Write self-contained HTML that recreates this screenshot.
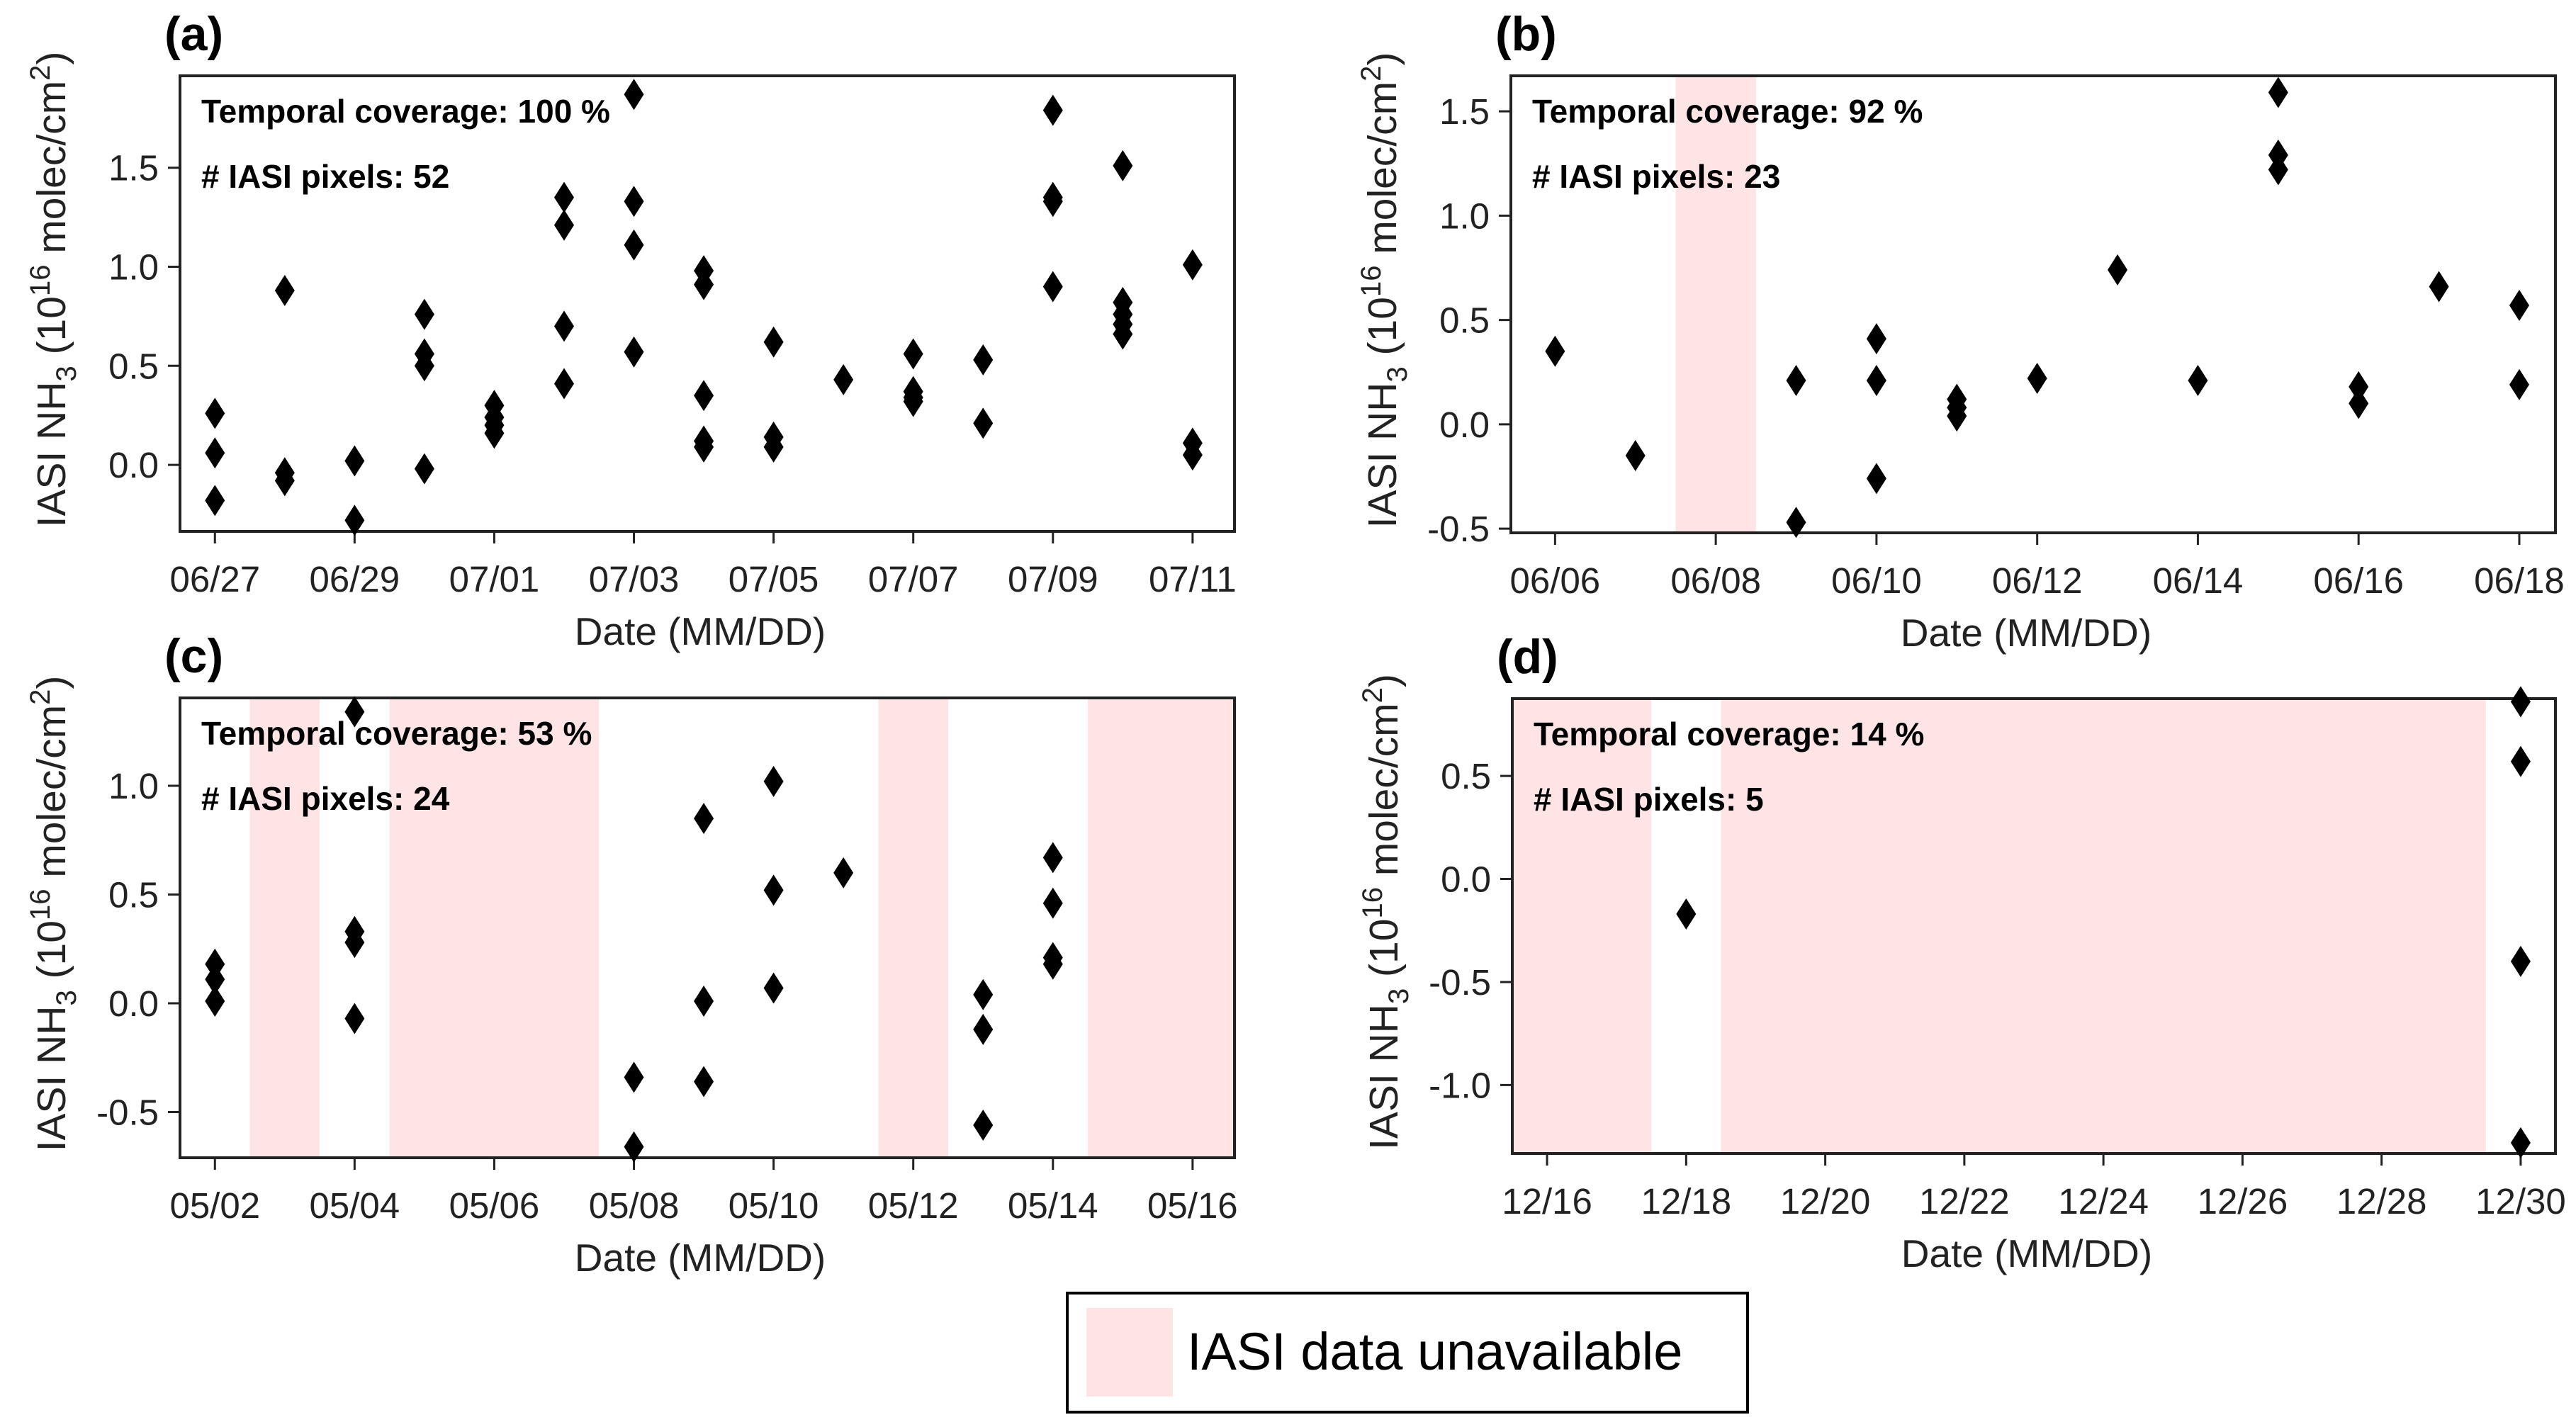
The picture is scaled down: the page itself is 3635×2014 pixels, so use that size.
<!DOCTYPE html>
<html><head><meta charset="utf-8"><style>
html,body{margin:0;padding:0;background:#fff;}
svg{display:block;font-family:"Liberation Sans",Arial,sans-serif;}
</style></head><body>
<svg id="fig" width="3635" height="2014" viewBox="0 0 3635 2014" xmlns="http://www.w3.org/2000/svg">
<rect x="0" y="0" width="3635" height="2014" fill="#fff"/>
<g>
<rect x="1506" y="1825" width="960" height="168" fill="#fff" stroke="#000" stroke-width="4"/>
<rect x="1533" y="1846" width="122" height="125" fill="#ffe4e6"/>
<text x="1675" y="1933" font-size="74" fill="#000">IASI data unavailable</text>
</g>
</svg>
<script>
// ---- panel (a) data: day offsets from 06/27 ----
const aLabels = ["06/27","06/29","07/01","07/03","07/05","07/07","07/09","07/11"];
const aDays = [0,0,0,1,1,1,2,2,3,3,3,3,4,4,4,4,5,5,5,5,6,6,6,6,7,7,7,7,7,8,8,8,9,10,10,10,10,11,11,12,12,12,12,13,13,13,13,13,14,14,14];
const aValues = [0.26,0.06,-0.18,0.88,-0.04,-0.08,0.02,-0.28,0.76,0.56,0.50,-0.02,0.30,0.24,0.20,0.16,1.35,1.21,0.70,0.41,1.87,1.33,1.11,0.57,0.98,0.91,0.35,0.12,0.09,0.62,0.14,0.09,0.43,0.56,0.37,0.34,0.32,0.53,0.21,1.79,1.35,1.33,0.90,1.51,0.82,0.76,0.71,0.66,1.01,0.11,0.05];
const aYTicks = [0.0,0.5,1.0,1.5];
const aGaps = [];
// ---- panel (b) data: day offsets from 06/06 ----
const bLabels = ["06/06","06/08","06/10","06/12","06/14","06/16","06/18"];
const bDays = [0,1,3,3,4,4,4,5,5,5,6,7,8,9,9,9,10,10,11,12,12];
const bValues = [0.35,-0.15,0.21,-0.47,0.41,0.21,-0.26,0.12,0.08,0.04,0.22,0.74,0.21,1.59,1.29,1.22,0.18,0.10,0.66,0.57,0.19];
const bYTicks = [-0.5,0.0,0.5,1.0,1.5];
const bGaps = [[1.5,2.5]];
// ---- panel (c) data: day offsets from 05/02 ----
const cLabels = ["05/02","05/04","05/06","05/08","05/10","05/12","05/14","05/16"];
const cDays = [0,0,0,2,2,2,2,6,6,7,7,7,8,8,8,9,11,11,11,12,12,12,12];
const cValues = [0.18,0.11,0.01,1.34,0.33,0.28,-0.07,-0.34,-0.66,0.85,0.01,-0.36,1.02,0.52,0.07,0.60,0.04,-0.12,-0.56,0.67,0.46,0.21,0.18];
const cYTicks = [-0.5,0.0,0.5,1.0];
const cGaps = [[0.5,1.5],[2.5,5.5],[9.5,10.5],[12.5,14.6]];
// ---- panel (d) data: day offsets from 12/16 ----
const dLabels = ["12/16","12/18","12/20","12/22","12/24","12/26","12/28","12/30"];
const dDays = [2,14,14,14,14];
const dValues = [-0.17,0.86,0.57,-0.40,-1.28];
const dYTicks = [-1.0,-0.5,0.0,0.5];
const dGaps = [[-0.6,1.5],[2.5,13.5]];

const NS="http://www.w3.org/2000/svg";
const fig=document.getElementById('fig');
function mk(tag,attrs,parent){const e=document.createElementNS(NS,tag);for(const k in attrs)e.setAttribute(k,attrs[k]);(parent||fig).appendChild(e);return e;}

function panel(o){
  const g=mk('g',{});
  
  
  const sx=d=>o.x0+(d-o.d0)*(o.x1-o.x0)/(o.d1-o.d0);
  const sy=v=>o.y1-(v-o.v0)*(o.y1-o.y0)/(o.v1-o.v0);
  o.gaps.forEach((gp,i)=>{
    const a=Math.max(sx(gp[0]),o.x0), b=Math.min(sx(gp[1]),o.x1);
    const r=mk('rect',{x:a,y:o.y0,width:b-a,height:o.y1-o.y0,fill:'#ffe4e6'},g);
    
    
  });
  o.labels.forEach((lab,i)=>{
    const x=sx(i*2);
    const t=mk('line',{x1:x,x2:x,y1:o.y1,y2:o.y1+17,stroke:'#222','stroke-width':3},g);
    
    
    const tx=mk('text',{x:x,y:o.y1+85,'font-size':51,'text-anchor':'middle',fill:'#222'},g);
    tx.textContent=lab;
    
    
  });
  o.yticks.forEach(v=>{
    const y=sy(v);
    const t=mk('line',{x1:o.x0-17,x2:o.x0,y1:y,y2:y,stroke:'#222','stroke-width':3},g);
    
    
    const tx=mk('text',{x:o.x0-30,y:y+18,'font-size':51,'text-anchor':'end',fill:'#222'},g);
    tx.textContent=v.toFixed(1);
    
    
  });
  const bx=mk('rect',{x:o.x0,y:o.y0,width:o.x1-o.x0,height:o.y1-o.y0,fill:'none',stroke:'#222','stroke-width':4},g);
  
  
  const t1=mk('text',{x:o.x0+30,y:o.y0+66,'font-size':46,'font-weight':'bold',fill:'#000'},g);
  t1.textContent='Temporal coverage: '+o.cov+' %';
  
  
  const t2=mk('text',{x:o.x0+30,y:o.y0+158,'font-size':46,'font-weight':'bold',fill:'#000'},g);
  t2.textContent='# IASI pixels: '+o.pix;
  
  
  o.days.forEach((d,i)=>{
    const x=sx(d), y=sy(o.vals[i]);
    const p=mk('path',{d:`M${x} ${y-22}L${x+14} ${y}L${x} ${y+22}L${x-14} ${y}Z`,fill:'#000'},g);
    
    
  });
  const L=mk('text',{x:o.x0-22,y:o.y0-36,'font-size':68,'font-weight':'bold',fill:'#000'},g);
  L.textContent='('+o.id+')';
  
  
  const xt=mk('text',{x:(o.x0+o.x1)/2-10,y:o.y1+160,'font-size':55,'text-anchor':'middle',fill:'#222'},g);
  xt.textContent='Date (MM/DD)';
  
  
  const cy=(o.y0+o.y1)/2-20, cx=o.x0-162;
  const yt=mk('text',{x:cx,y:cy,'font-size':57,'text-anchor':'middle',fill:'#222',transform:`rotate(-90 ${cx} ${cy})`},g);
  yt.innerHTML='IASI NH<tspan font-size="40" dy="15">3</tspan><tspan dy="-15"> (10</tspan><tspan font-size="40" dy="-22">16</tspan><tspan dy="22"> molec/cm</tspan><tspan font-size="40" dy="-22">2</tspan><tspan dy="22">)</tspan>';
  
  
}
panel({id:'a',x0:254,x1:1742,y0:107,y1:750,d0:-0.5,d1:14.6,v0:-0.336,v1:1.964,labels:aLabels,days:aDays,vals:aValues,yticks:aYTicks,gaps:aGaps,cov:100,pix:52});
panel({id:'b',x0:2132,x1:3606,y0:107,y1:752,d0:-0.55,d1:12.45,v0:-0.52,v1:1.67,labels:bLabels,days:bDays,vals:bValues,yticks:bYTicks,gaps:bGaps,cov:92,pix:23});
panel({id:'c',x0:254,x1:1742,y0:985,y1:1634,d0:-0.5,d1:14.6,v0:-0.71,v1:1.404,labels:cLabels,days:cDays,vals:cValues,yticks:cYTicks,gaps:cGaps,cov:53,pix:24});
panel({id:'d',x0:2134,x1:3606,y0:986,y1:1628,d0:-0.5,d1:14.5,v0:-1.332,v1:0.875,labels:dLabels,days:dDays,vals:dValues,yticks:dYTicks,gaps:dGaps,cov:14,pix:5});
</script>
</body></html>
